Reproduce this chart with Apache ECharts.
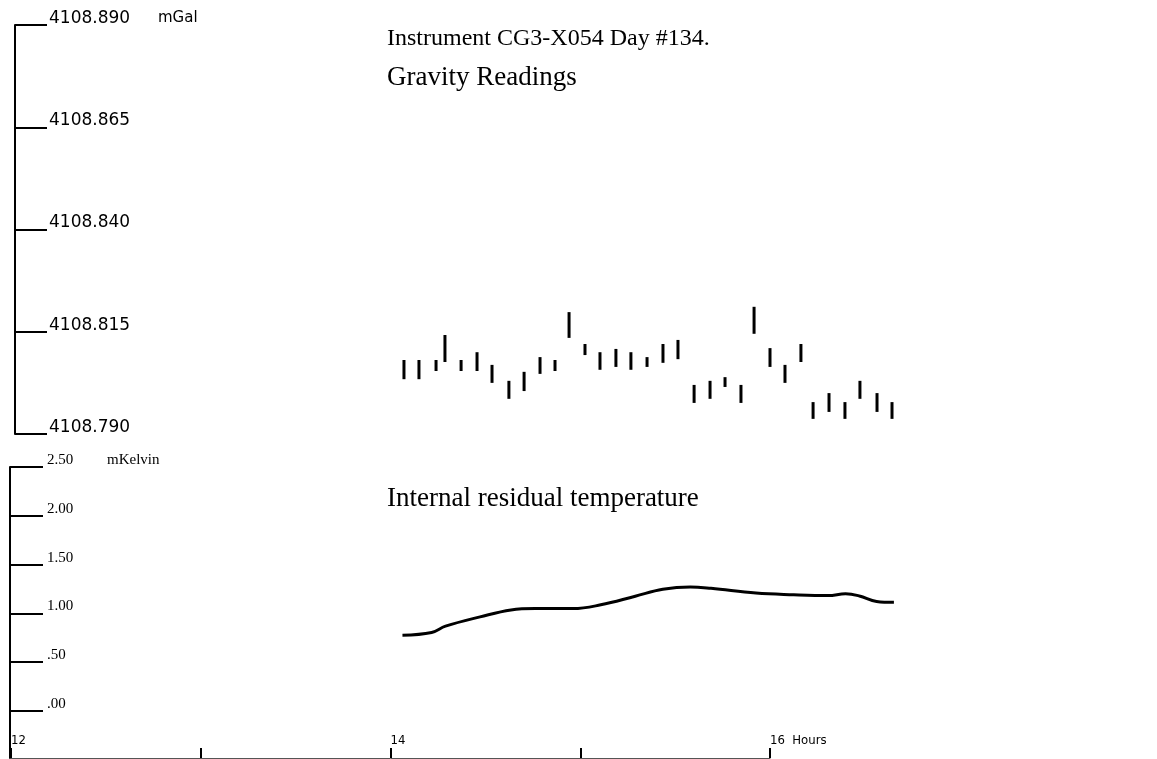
<!DOCTYPE html>
<html>
<head>
<meta charset="utf-8">
<script src="https://cdn.jsdelivr.net/npm/echarts@6/dist/echarts.min.js"></script>
<style>
html,body{margin:0;padding:0;background:#fff;}
#chart{width:1157px;height:759px;}
</style>
</head>
<body>
<div id="chart"></div>
<script>
// Gravity readings: time (hours), reading range low/high (mGal)
const gravityHours = [14.071,14.150,14.240,14.287,14.372,14.456,14.535,14.624,14.704,14.788,14.867,14.941,15.025,15.104,15.188,15.267,15.352,15.436,15.515,15.600,15.684,15.763,15.847,15.916,16.000,16.079,16.163,16.227,16.311,16.395,16.474,16.564,16.643];
const gravityLow = [4108.8034,4108.8034,4108.8054,4108.8076,4108.8054,4108.8054,4108.8025,4108.7986,4108.8005,4108.8047,4108.8054,4108.8135,4108.8093,4108.8057,4108.8064,4108.8057,4108.8064,4108.8074,4108.8083,4108.7976,4108.7986,4108.8015,4108.7976,4108.8145,4108.8064,4108.8025,4108.8076,4108.7937,4108.7954,4108.7937,4108.7986,4108.7954,4108.7937];
const gravityHigh = [4108.8081,4108.8081,4108.8081,4108.8142,4108.8081,4108.8100,4108.8069,4108.8030,4108.8052,4108.8088,4108.8081,4108.8198,4108.8120,4108.8100,4108.8108,4108.8100,4108.8088,4108.8120,4108.8130,4108.8020,4108.8030,4108.8039,4108.8020,4108.8211,4108.8110,4108.8069,4108.8120,4108.7978,4108.8000,4108.7978,4108.8030,4108.8000,4108.7978];

// Internal residual temperature (mKelvin)
const tempHours = [14.063,14.217,14.290,14.472,14.635,14.763,14.962,15.108,15.290,15.435,15.580,15.689,15.926,16.125,16.307,16.398,16.471,16.562,16.653];
const tempValues = [0.777,0.805,0.869,0.964,1.035,1.049,1.049,1.088,1.176,1.247,1.271,1.257,1.208,1.191,1.183,1.201,1.179,1.123,1.113];

// Axis settings
const hourMin = 12, hourMax = 16, hourStep = 1;
const plotHourMax = 17;
const gravMin = 4108.790, gravMax = 4108.890, gravStep = 0.025;
const tempMin = 0, tempMax = 2.5, tempStep = 0.5;

const gravityData = gravityHours.map((h, i) => [h, gravityLow[i], gravityHigh[i]]);
const tempData = tempHours.map((h, i) => [h, tempValues[i]]);

const chart = echarts.init(document.getElementById('chart'), null, {renderer: 'canvas'});

const serif = '"Liberation Serif", "Times New Roman", serif';
const sans = '"DejaVu Sans", sans-serif';
const hourPx = 759 / (hourMax - hourMin);

chart.setOption({
  animation: false,
  backgroundColor: '#fff',
  title: [
    {text: 'Instrument CG3-X054 Day #134.', left: 387, top: 27, padding: 0, textStyle: {fontFamily: serif, fontSize: 24, fontWeight: 'normal', color: '#000'}},
    {text: 'Gravity Readings', left: 387, top: 64, padding: 0, textStyle: {fontFamily: serif, fontSize: 27, fontWeight: 'normal', color: '#000'}},
    {text: 'Internal residual temperature', left: 387, top: 485, padding: 0, textStyle: {fontFamily: serif, fontSize: 27, fontWeight: 'normal', color: '#000'}},
    {text: 'mGal', left: 158, top: 11, padding: 0, textStyle: {fontFamily: sans, fontSize: 15, fontWeight: 'normal', color: '#000'}},
    {text: 'mKelvin', left: 107, top: 453, padding: 0, textStyle: {fontFamily: serif, fontSize: 15, fontWeight: 'normal', color: '#000'}}
  ],
  grid: [
    {left: 11, top: 25, width: hourPx * (plotHourMax - hourMin), height: 409},
    {left: 11, top: 467, width: hourPx * (plotHourMax - hourMin), height: 244},
    {left: 11, top: 711, width: 759, height: 47}
  ],
  xAxis: [
    {type: 'value', gridIndex: 0, min: hourMin, max: plotHourMax, show: false},
    {type: 'value', gridIndex: 1, min: hourMin, max: plotHourMax, show: false},
    {type: 'value', gridIndex: 2, min: hourMin, max: hourMax, interval: hourStep,
      axisLine: {show: true, lineStyle: {color: '#555', width: 1}},
      axisTick: {show: true, inside: true, length: 10, lineStyle: {color: '#000', width: 2}},
      splitLine: {show: false},
      axisLabel: {
        inside: true, margin: 11, align: 'left', showMinLabel: true, showMaxLabel: true,
        fontFamily: '"Liberation Sans Narrow", "DejaVu Sans Condensed", sans-serif', fontSize: 13, color: '#000',
        formatter: v => (Math.round(v) % 2 === 0 ? (Math.round(v) === 16 ? '16  Hours' : String(Math.round(v))) : '')
      }
    }
  ],
  yAxis: [
    {type: 'value', gridIndex: 0, min: gravMin, max: gravMax, interval: gravStep, offset: -4,
      axisLine: {show: true, lineStyle: {color: '#000', width: 2}},
      axisTick: {show: true, inside: true, length: 32, lineStyle: {color: '#000', width: 2}},
      splitLine: {show: false},
      axisLabel: {inside: true, margin: 34, verticalAlign: 'bottom', lineHeight: 13, fontFamily: sans, fontSize: 17, color: '#000',
        formatter: v => v.toFixed(3)}
    },
    {type: 'value', gridIndex: 1, min: tempMin, max: tempMax, interval: tempStep, offset: 1,
      axisLine: {show: true, lineStyle: {color: '#000', width: 2}},
      axisTick: {show: true, inside: true, length: 33, lineStyle: {color: '#000', width: 2}},
      splitLine: {show: false},
      axisLabel: {inside: true, margin: 37, verticalAlign: 'bottom', lineHeight: 14, fontFamily: serif, fontSize: 15, color: '#000',
        formatter: v => { const s = v.toFixed(2); return v < 1 ? s.replace(/^0/, '') : s; }}
    },
    {type: 'value', gridIndex: 2, min: 0, max: 1, offset: 1,
      axisLine: {show: true, lineStyle: {color: '#000', width: 2}},
      axisTick: {show: false}, axisLabel: {show: false}, splitLine: {show: false}
    }
  ],
  series: [
    {
      type: 'custom', xAxisIndex: 0, yAxisIndex: 0, clip: false,
      data: gravityData,
      encode: {x: 0, y: [1, 2]},
      renderItem: (params, api) => {
        const p1 = api.coord([api.value(0), api.value(1)]);
        const p2 = api.coord([api.value(0), api.value(2)]);
        return {type: 'line', shape: {x1: p1[0], y1: p1[1], x2: p2[0], y2: p2[1]},
          style: {stroke: '#000', lineWidth: 3}};
      }
    },
    {
      type: 'line', xAxisIndex: 1, yAxisIndex: 1,
      data: tempData, smooth: 0.4, symbol: 'none',
      lineStyle: {color: '#000', width: 3}
    }
  ]
});
</script>
</body>
</html>
